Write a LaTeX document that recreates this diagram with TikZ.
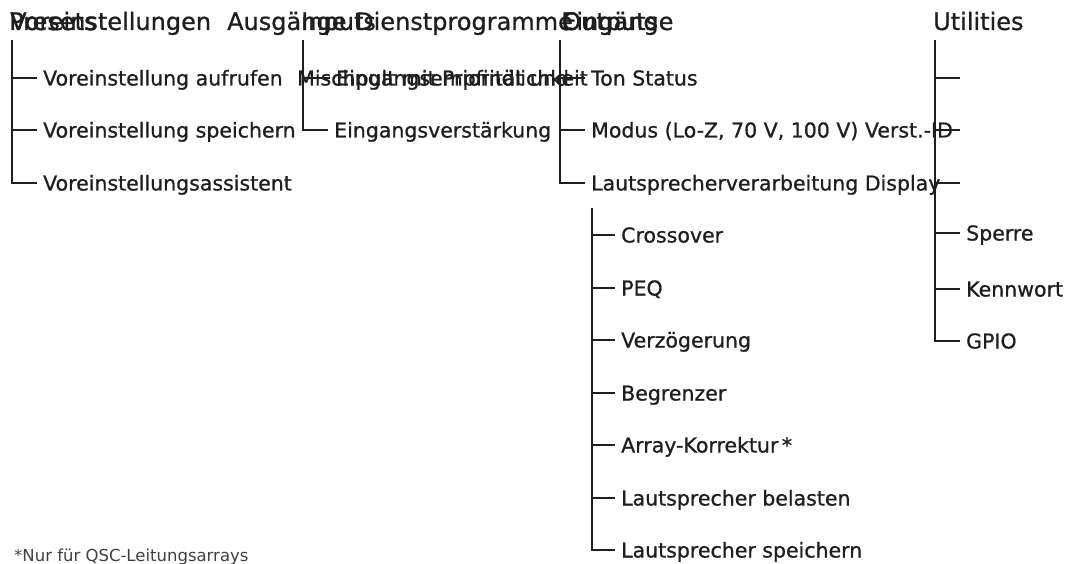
\documentclass[tikz,border=0pt]{standalone}
\usepackage{fontspec}
\setmainfont{DejaVu Sans}
\newfontfamily\inkfont[FakeBold=0.8]{DejaVu Sans}
\usetikzlibrary{positioning}

\definecolor{ink}{RGB}{30,30,30}

\tikzset{
    head/.style={anchor=base west, inner sep=0pt, text=ink,
        font=\inkfont\fontsize{24}{28}\selectfont},
    item/.style={anchor=west, inner xsep=6pt, inner ysep=0pt, text=ink,
        text height=15pt, text depth=0pt, font=\inkfont\fontsize{20.5}{24}\selectfont},
    trunk/.style={draw=ink, line width=2.2pt},
    twig/.style={draw=ink, line width=1.1pt},
    note/.style={anchor=base west, inner sep=0pt, text=ink!85,
        font=\fontsize{16.5}{18}\selectfont},
}

\begin{document}
\begin{tikzpicture}[x=1pt, y=-1pt]
    \useasboundingbox[fill=white] (0,0) rectangle (1073,564);

    % Headings (overlaid, as printed)
    \node[head] (pre) at (9,30) {Presets};
    \node[head] (preDE) at (10,30) {Voreinstellungen};
    \node[head] (outDE) at (227,30) {Ausgänge};
    \node[head] (inp) at (301,30) {Inputs};
    \node[head] (utiDE) at (355,30) {Dienstprogramme};
    \node[head] (out) at (562,30) {Outputs};
    \node[head] (inpDE) at (561,30) {Eingänge};
    \node[head] (uti) at (933,30) {Utilities};

    % Presets
    \coordinate (preTop) at (12,40);
    \node[item] (pre1) at (37,78) {Voreinstellung aufrufen};
    \node[item] (pre2) at (37,130) {Voreinstellung speichern};
    \node[item] (pre3) at (37,183) {Voreinstellungsassistent};
    \draw[trunk] (preTop) |- (pre3.west);
    \draw[twig] (preTop |- pre1.west) -- (pre1.west);
    \draw[trunk] (preTop |- pre2.west) -- (pre2.west);

    % Inputs
    \coordinate (inpTop) at (303,40);
    \node[item] (mix) at (291,78) {Mischpult mit Priorität und};
    \node[item] (inp1) at (330,78) {Eingangsempfindlichkeit};
    \node[item] (inp2) at (328,130) {Eingangsverstärkung};
    \draw[trunk] (inpTop) |- (inp2.west);
    \draw[twig] (inpTop |- inp1.west) -- (inp1.west);

    % Outputs
    \coordinate (outTop) at (560,40);
    \node[item] (out1) at (585,78) {Ton Status};
    \node[item] (out2) at (585,130) {Modus (Lo-Z, 70 V, 100 V) Verst.-ID};
    \node[item] (out3) at (585,183) {Lautsprecherverarbeitung Display};
    \draw[trunk] (outTop) |- (out3.west);
    \draw[twig] (outTop |- out1.west) -- (out1.west);
    \draw[trunk] (outTop |- out2.west) -- (out2.west);

    % Speaker processing
    \coordinate (spkTop) at (592,208);
    \node[item] (spk1) at (615,235) {Crossover};
    \node[item] (spk2) at (615,288) {PEQ};
    \node[item] (spk3) at (615,340) {Verzögerung};
    \node[item] (spk4) at (615,393) {Begrenzer};
    \node[item] (spk5) at (615,445) {Array-Korrektur\,*};
    \node[item] (spk6) at (615,498) {Lautsprecher belasten};
    \node[item] (spk7) at (615,550) {Lautsprecher speichern};
    \draw[trunk] (spkTop) |- (spk7.west);
    \draw[trunk] (spkTop |- spk1.west) -- (spk1.west);
    \draw[twig] (spkTop |- spk2.west) -- (spk2.west);
    \draw[trunk] (spkTop |- spk3.west) -- (spk3.west);
    \draw[trunk] (spkTop |- spk4.west) -- (spk4.west);
    \draw[twig] (spkTop |- spk5.west) -- (spk5.west);
    \draw[twig] (spkTop |- spk6.west) -- (spk6.west);

    % Utilities
    \coordinate (utiTop) at (935,40);
    \coordinate (uti1) at (960,78);
    \coordinate (uti2) at (960,130);
    \coordinate (uti3) at (960,183);
    \node[item] (uti4) at (960,233) {Sperre};
    \node[item] (uti5) at (960,289) {Kennwort};
    \node[item] (uti6) at (960,341) {GPIO};
    \draw[trunk, line width=1.5pt] (utiTop) |- (uti6.west);
    \draw[twig] (utiTop |- uti1) -- (uti1);
    \draw[twig] (utiTop |- uti2) -- (uti2);
    \draw[trunk] (utiTop |- uti3) -- (uti3);
    \draw[trunk] (utiTop |- uti4.west) -- (uti4.west);
    \draw[trunk] (utiTop |- uti5.west) -- (uti5.west);

    % Footnote
    \node[note] (fn) at (14,561) {*Nur für QSC-Leitungsarrays};
\end{tikzpicture}
\end{document}
